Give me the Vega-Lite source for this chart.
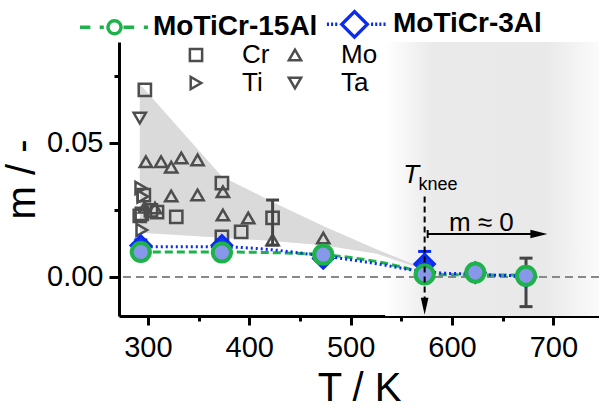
{
  "$schema": "https://vega.github.io/schema/vega-lite/v6.json",
  "autosize": {"type": "none"},
  "width": 480,
  "height": 274,
  "padding": {"left": 119, "top": 42, "right": 0, "bottom": 95},
  "background": "white",
  "config": {
    "view": {"stroke": null},
    "font": "Liberation Sans",
    "axis": {
      "grid": false,
      "domainColor": "black",
      "domainWidth": 3,
      "tickColor": "black",
      "tickWidth": 3,
      "labelFont": "Liberation Sans",
      "labelFontSize": 29,
      "labelColor": "black",
      "titleFont": "Liberation Sans",
      "titleFontSize": 40,
      "titleFontWeight": "normal",
      "titleColor": "black",
      "labelOverlap": false,
      "labelFlush": false
    }
  },
  "datasets": {
    "shade": [{"T0": 534, "T1": 745}],
    "band": [
      {"T": 292, "hi": 0.072, "lo": 0.0165},
      {"T": 373, "hi": 0.0375, "lo": 0.0146},
      {"T": 423, "hi": 0.028, "lo": 0.0134},
      {"T": 473, "hi": 0.019, "lo": 0.0118},
      {"T": 526, "hi": 0.0102, "lo": 0.0086},
      {"T": 575, "hi": 0.0028, "lo": 0.0024}
    ],
    "zero": [{"m": 0}],
    "elements": [
      {"element": "Cr", "T": 297, "m": 0.0698},
      {"element": "Cr", "T": 296, "m": 0.0305},
      {"element": "Cr", "T": 294, "m": 0.0235},
      {"element": "Cr", "T": 292, "m": 0.0228},
      {"element": "Cr", "T": 309, "m": 0.0242},
      {"element": "Cr", "T": 303, "m": 0.0248},
      {"element": "Cr", "T": 328, "m": 0.0224},
      {"element": "Cr", "T": 373, "m": 0.035},
      {"element": "Cr", "T": 373, "m": 0.0149},
      {"element": "Cr", "T": 392, "m": 0.0168},
      {"element": "Cr", "T": 423, "m": 0.022},
      {"element": "Ti", "T": 293, "m": 0.0332},
      {"element": "Ti", "T": 295, "m": 0.03},
      {"element": "Ti", "T": 294, "m": 0.0175},
      {"element": "Mo", "T": 298, "m": 0.043},
      {"element": "Mo", "T": 313, "m": 0.043},
      {"element": "Mo", "T": 323, "m": 0.041},
      {"element": "Mo", "T": 333, "m": 0.0444},
      {"element": "Mo", "T": 349, "m": 0.0437},
      {"element": "Mo", "T": 297, "m": 0.026},
      {"element": "Mo", "T": 307, "m": 0.0257},
      {"element": "Mo", "T": 323, "m": 0.0302},
      {"element": "Mo", "T": 349, "m": 0.0306},
      {"element": "Mo", "T": 374, "m": 0.0318},
      {"element": "Mo", "T": 374, "m": 0.0231},
      {"element": "Mo", "T": 399, "m": 0.022},
      {"element": "Mo", "T": 423, "m": 0.0138},
      {"element": "Mo", "T": 473, "m": 0.0145},
      {"element": "Ta", "T": 292, "m": 0.0593}
    ],
    "errs": [
      {"group": "gray", "T": 423, "lo": 0.0119, "hi": 0.0287},
      {"group": "gray", "T": 673, "lo": -0.0111, "hi": 0.007},
      {"group": "blue", "T": 293, "lo": 0.0100, "hi": 0.0138},
      {"group": "blue", "T": 373, "lo": 0.0100, "hi": 0.0138},
      {"group": "blue", "T": 573, "lo": 0.0005, "hi": 0.0095}
    ],
    "fit": [
      {"series": "MoTiCr-15Al", "T": 293, "m": 0.0093},
      {"series": "MoTiCr-15Al", "T": 373, "m": 0.0093},
      {"series": "MoTiCr-15Al", "T": 417, "m": 0.0091},
      {"series": "MoTiCr-15Al", "T": 447, "m": 0.0088},
      {"series": "MoTiCr-15Al", "T": 473, "m": 0.0083},
      {"series": "MoTiCr-15Al", "T": 500, "m": 0.0072},
      {"series": "MoTiCr-15Al", "T": 526, "m": 0.0057},
      {"series": "MoTiCr-15Al", "T": 561, "m": 0.0026},
      {"series": "MoTiCr-15Al", "T": 573, "m": 0.0012},
      {"series": "MoTiCr-15Al", "T": 600, "m": 0.0008},
      {"series": "MoTiCr-15Al", "T": 650, "m": 0.0007},
      {"series": "MoTiCr-15Al", "T": 680, "m": 0.0006},
      {"series": "MoTiCr-3Al", "T": 293, "m": 0.0113},
      {"series": "MoTiCr-3Al", "T": 373, "m": 0.0112},
      {"series": "MoTiCr-3Al", "T": 417, "m": 0.0103},
      {"series": "MoTiCr-3Al", "T": 473, "m": 0.0078},
      {"series": "MoTiCr-3Al", "T": 489, "m": 0.007},
      {"series": "MoTiCr-3Al", "T": 526, "m": 0.0049},
      {"series": "MoTiCr-3Al", "T": 561, "m": 0.0026},
      {"series": "MoTiCr-3Al", "T": 588, "m": 0.0015},
      {"series": "MoTiCr-3Al", "T": 614, "m": 0.0011},
      {"series": "MoTiCr-3Al", "T": 644, "m": 0.0006},
      {"series": "MoTiCr-3Al", "T": 666, "m": 0.0004},
      {"series": "MoTiCr-3Al", "T": 680, "m": 0.0001}
    ],
    "series": [
      {"series": "MoTiCr-15Al", "T": 293, "m": 0.0093},
      {"series": "MoTiCr-15Al", "T": 373, "m": 0.0091},
      {"series": "MoTiCr-15Al", "T": 473, "m": 0.0083},
      {"series": "MoTiCr-15Al", "T": 573, "m": 0.0009},
      {"series": "MoTiCr-15Al", "T": 623, "m": 0.0016},
      {"series": "MoTiCr-15Al", "T": 673, "m": 0.0004},
      {"series": "MoTiCr-3Al", "T": 293, "m": 0.0117},
      {"series": "MoTiCr-3Al", "T": 373, "m": 0.0118},
      {"series": "MoTiCr-3Al", "T": 473, "m": 0.0069},
      {"series": "MoTiCr-3Al", "T": 573, "m": 0.0048},
      {"series": "MoTiCr-3Al", "T": 623, "m": 0.0016},
      {"series": "MoTiCr-3Al", "T": 673, "m": 0.0}
    ],
    "knee": [{"T": 573, "top": 0.03, "bottom": -0.008, "head": -0.011}],
    "harrow": [{"T0": 576, "T1": 686, "m": 0.016, "head": 685.7, "capLo": 0.0145, "capHi": 0.0175}],
    "labels": [
      {"key": "T", "text": "T", "T": 552, "m": 0.0351},
      {"key": "knee", "text": "knee", "T": 567, "m": 0.0325},
      {"key": "m0", "text": "m ≈ 0", "T": 629, "m": 0.017}
    ]
  },
  "layer": [
    {
      "data": {"name": "shade"},
      "mark": {
        "type": "rect",
        "fill": {
          "gradient": "linear", "x1": 0, "y1": 0, "x2": 1, "y2": 0,
          "stops": [
            {"offset": 0, "color": "#ffffff"},
            {"offset": 0.22, "color": "#eaeaea"},
            {"offset": 0.75, "color": "#e9e9e9"},
            {"offset": 1, "color": "#fbfbfb"}
          ]
        }
      },
      "encoding": {
        "x": {"field": "T0", "type": "quantitative", "scale": {"domain": [271.5, 745], "nice": false, "zero": false},
          "axis": {
            "title": "T / K",
            "values": [300, 350, 400, 450, 500, 550, 600, 650, 700],
            "labelExpr": "datum.value % 100 === 0 ? datum.label : ''",
            "tickSize": {"condition": {"test": "datum.value % 100 === 0", "value": 9}, "value": 5},
            "labelPadding": 8,
            "titlePadding": 6
          }},
        "x2": {"field": "T1"}
      }
    },
    {
      "data": {"name": "band"},
      "mark": {"type": "area", "color": "#dadada", "opacity": 1},
      "encoding": {
        "x": {"field": "T", "type": "quantitative"},
        "y": {"field": "hi", "type": "quantitative", "scale": {"domain": [-0.0146, 0.0877], "nice": false, "zero": false},
          "axis": {
            "title": "m / -",
            "values": [0, 0.025, 0.05, 0.075],
            "labelExpr": "datum.value === 0 || datum.value === 0.05 ? format(datum.value, '.2f') : ''",
            "tickSize": {"condition": {"test": "datum.value === 0 || datum.value === 0.05", "value": 10}, "value": 5},
            "labelPadding": 6,
            "titlePadding": 4
          }},
        "y2": {"field": "lo"}
      }
    },
    {
      "data": {"name": "zero"},
      "mark": {"type": "rule", "color": "#888888", "strokeWidth": 2, "strokeDash": [8, 5]},
      "encoding": {"y": {"field": "m", "type": "quantitative"}}
    },
    {
      "data": {"name": "elements"},
      "mark": {"type": "point", "filled": false, "color": "#4d4d4d", "strokeWidth": 2.5, "size": 150, "opacity": 1},
      "encoding": {
        "x": {"field": "T", "type": "quantitative"},
        "y": {"field": "m", "type": "quantitative"},
        "shape": {
          "field": "element", "type": "nominal",
          "scale": {"domain": ["Cr", "Ti", "Mo", "Ta"], "range": ["square", "triangle-right", "triangle-up", "triangle-down"]},
          "legend": {
            "title": null, "orient": "none", "legendX": 64, "legendY": 0, "columns": 2,
            "symbolSize": 150, "symbolStrokeColor": "#4d4d4d", "symbolStrokeWidth": 2.5, "symbolFillColor": "transparent",
            "labelFont": "Liberation Sans", "labelFontSize": 26, "labelColor": "black",
            "labelOffset": 33, "columnPadding": 12, "rowPadding": 2, "padding": 0
          }
        }
      }
    },
    {
      "data": {"name": "errs"},
      "transform": [{"filter": "datum.group === 'gray'"}],
      "layer": [
        {"mark": {"type": "rule", "color": "#444444", "strokeWidth": 3},
         "encoding": {"x": {"field": "T", "type": "quantitative"}, "y": {"field": "lo", "type": "quantitative"}, "y2": {"field": "hi"}}},
        {"mark": {"type": "tick", "orient": "horizontal", "color": "#444444", "size": 13, "thickness": 3, "opacity": 1},
         "encoding": {"x": {"field": "T", "type": "quantitative"}, "y": {"field": "lo", "type": "quantitative"}}},
        {"mark": {"type": "tick", "orient": "horizontal", "color": "#444444", "size": 13, "thickness": 3, "opacity": 1},
         "encoding": {"x": {"field": "T", "type": "quantitative"}, "y": {"field": "hi", "type": "quantitative"}}}
      ]
    },
    {
      "data": {"name": "fit"},
      "transform": [{"filter": "datum.series === 'MoTiCr-15Al'"}],
      "mark": {"type": "line", "color": "#1db34a", "strokeWidth": 3, "strokeDash": [8, 4], "interpolate": "monotone"},
      "encoding": {"x": {"field": "T", "type": "quantitative"}, "y": {"field": "m", "type": "quantitative"}}
    },
    {
      "data": {"name": "fit"},
      "transform": [{"filter": "datum.series === 'MoTiCr-3Al'"}],
      "mark": {"type": "line", "color": "#0a2cf0", "strokeWidth": 3, "strokeDash": [2, 3], "interpolate": "monotone"},
      "encoding": {"x": {"field": "T", "type": "quantitative"}, "y": {"field": "m", "type": "quantitative"}}
    },
    {
      "data": {"name": "errs"},
      "transform": [{"filter": "datum.group === 'blue'"}],
      "layer": [
        {"mark": {"type": "rule", "color": "#0a2cf0", "strokeWidth": 3},
         "encoding": {"x": {"field": "T", "type": "quantitative"}, "y": {"field": "lo", "type": "quantitative"}, "y2": {"field": "hi"}}},
        {"mark": {"type": "tick", "orient": "horizontal", "color": "#0a2cf0", "size": 13, "thickness": 3, "opacity": 1},
         "encoding": {"x": {"field": "T", "type": "quantitative"}, "y": {"field": "hi", "type": "quantitative"}}}
      ]
    },
    {
      "data": {"name": "series"},
      "transform": [{"filter": "datum.series === 'MoTiCr-3Al'"}],
      "mark": {"type": "point", "shape": "diamond", "filled": true, "fill": "#1a3af0", "stroke": "#0a2cf0", "strokeWidth": 3, "size": 380, "opacity": 1},
      "encoding": {"x": {"field": "T", "type": "quantitative"}, "y": {"field": "m", "type": "quantitative"}}
    },
    {
      "data": {"name": "series"},
      "transform": [{"filter": "datum.series === 'MoTiCr-15Al'"}],
      "mark": {"type": "point", "shape": "circle", "filled": true, "fill": "#8797ea", "stroke": "#1db34a", "strokeWidth": 4, "size": 330, "opacity": 1},
      "encoding": {"x": {"field": "T", "type": "quantitative"}, "y": {"field": "m", "type": "quantitative"}}
    },
    {
      "data": {"name": "knee"},
      "layer": [
        {"mark": {"type": "rule", "color": "black", "strokeWidth": 2, "strokeDash": [6, 4]},
         "encoding": {"x": {"field": "T", "type": "quantitative"}, "y": {"field": "top", "type": "quantitative"}, "y2": {"field": "bottom"}}},
        {"mark": {"type": "point", "shape": "M-0.45,-1L0.45,-1L0,1Z", "filled": true, "color": "black", "size": 289, "opacity": 1},
         "encoding": {"x": {"field": "T", "type": "quantitative"}, "y": {"field": "head", "type": "quantitative"}}}
      ]
    },
    {
      "data": {"name": "harrow"},
      "layer": [
        {"mark": {"type": "rule", "color": "black", "strokeWidth": 2},
         "encoding": {"x": {"field": "T0", "type": "quantitative"}, "x2": {"field": "T1"}, "y": {"field": "m", "type": "quantitative"}}},
        {"mark": {"type": "rule", "color": "black", "strokeWidth": 2},
         "encoding": {"x": {"field": "T0", "type": "quantitative"}, "y": {"field": "capLo", "type": "quantitative"}, "y2": {"field": "capHi"}}},
        {"mark": {"type": "point", "shape": "M-1,-0.5L1,0L-1,0.5Z", "filled": true, "color": "black", "size": 289, "opacity": 1},
         "encoding": {"x": {"field": "head", "type": "quantitative"}, "y": {"field": "m", "type": "quantitative"}}}
      ]
    },
    {
      "data": {"name": "labels"},
      "transform": [{"filter": "datum.key === 'T'"}],
      "mark": {"type": "text", "align": "left", "baseline": "alphabetic", "font": "Liberation Sans", "fontSize": 26, "fontStyle": "italic", "color": "black"},
      "encoding": {"x": {"field": "T", "type": "quantitative"}, "y": {"field": "m", "type": "quantitative"}, "text": {"field": "text"}}
    },
    {
      "data": {"name": "labels"},
      "transform": [{"filter": "datum.key === 'knee'"}],
      "mark": {"type": "text", "align": "left", "baseline": "alphabetic", "font": "Liberation Sans", "fontSize": 18, "color": "black"},
      "encoding": {"x": {"field": "T", "type": "quantitative"}, "y": {"field": "m", "type": "quantitative"}, "text": {"field": "text"}}
    },
    {
      "data": {"name": "labels"},
      "transform": [{"filter": "datum.key === 'm0'"}],
      "mark": {"type": "text", "align": "center", "baseline": "alphabetic", "font": "Liberation Sans", "fontSize": 26, "color": "black"},
      "encoding": {"x": {"field": "T", "type": "quantitative"}, "y": {"field": "m", "type": "quantitative"}, "text": {"field": "text"}}
    },
    {
      "data": {"name": "series"},
      "mark": {"type": "point", "opacity": 0, "size": 10, "filled": false},
      "encoding": {
        "x": {"field": "T", "type": "quantitative"},
        "y": {"field": "m", "type": "quantitative"},
        "color": {
          "field": "series", "type": "nominal",
          "scale": {"domain": ["MoTiCr-15Al", "MoTiCr-3Al"], "range": ["#1db34a", "#0a2cf0"]},
          "legend": {
            "title": null, "orient": "none", "legendX": -41, "legendY": -54.5, "direction": "horizontal",
            "symbolSize": 4761, "symbolStrokeWidth": 3.5, "symbolOpacity": 1, "symbolFillColor": "white",
            "labelFont": "Liberation Sans", "labelFontSize": 28, "labelFontWeight": "bold", "labelColor": "black",
            "labelLimit": 400, "labelOffset": 2, "columnPadding": -22, "padding": 0
          }
        },
        "shape": {
          "field": "series", "type": "nominal",
          "scale": {"domain": ["MoTiCr-15Al", "MoTiCr-3Al"],
            "range": [
              "M-1,0H-0.7M-0.43,0H-0.31M-0.19,0A0.19,0.19 0 1,1 0.19,0A0.19,0.19 0 1,1 -0.19,0M0.26,0H0.57M0.85,0H0.97",
              "M-0.8,0H-0.74M-0.68,0H-0.62M-0.56,0H-0.50M-0.37,0L0,-0.37L0.37,0L0,0.37ZM0.48,0H0.54M0.60,0H0.66M0.72,0H0.78M0.84,0H0.90"
            ]},
          "legend": {
            "title": null, "orient": "none", "legendX": -41, "legendY": -54.5, "direction": "horizontal",
            "symbolSize": 4761, "symbolStrokeWidth": 3.5, "symbolOpacity": 1, "symbolFillColor": "white",
            "labelFont": "Liberation Sans", "labelFontSize": 28, "labelFontWeight": "bold", "labelColor": "black",
            "labelLimit": 400, "labelOffset": 2, "columnPadding": -22, "padding": 0
          }
        }
      }
    }
  ],
  "resolve": {"scale": {"shape": "independent", "color": "independent"}, "legend": {"shape": "independent", "color": "independent"}}
}
